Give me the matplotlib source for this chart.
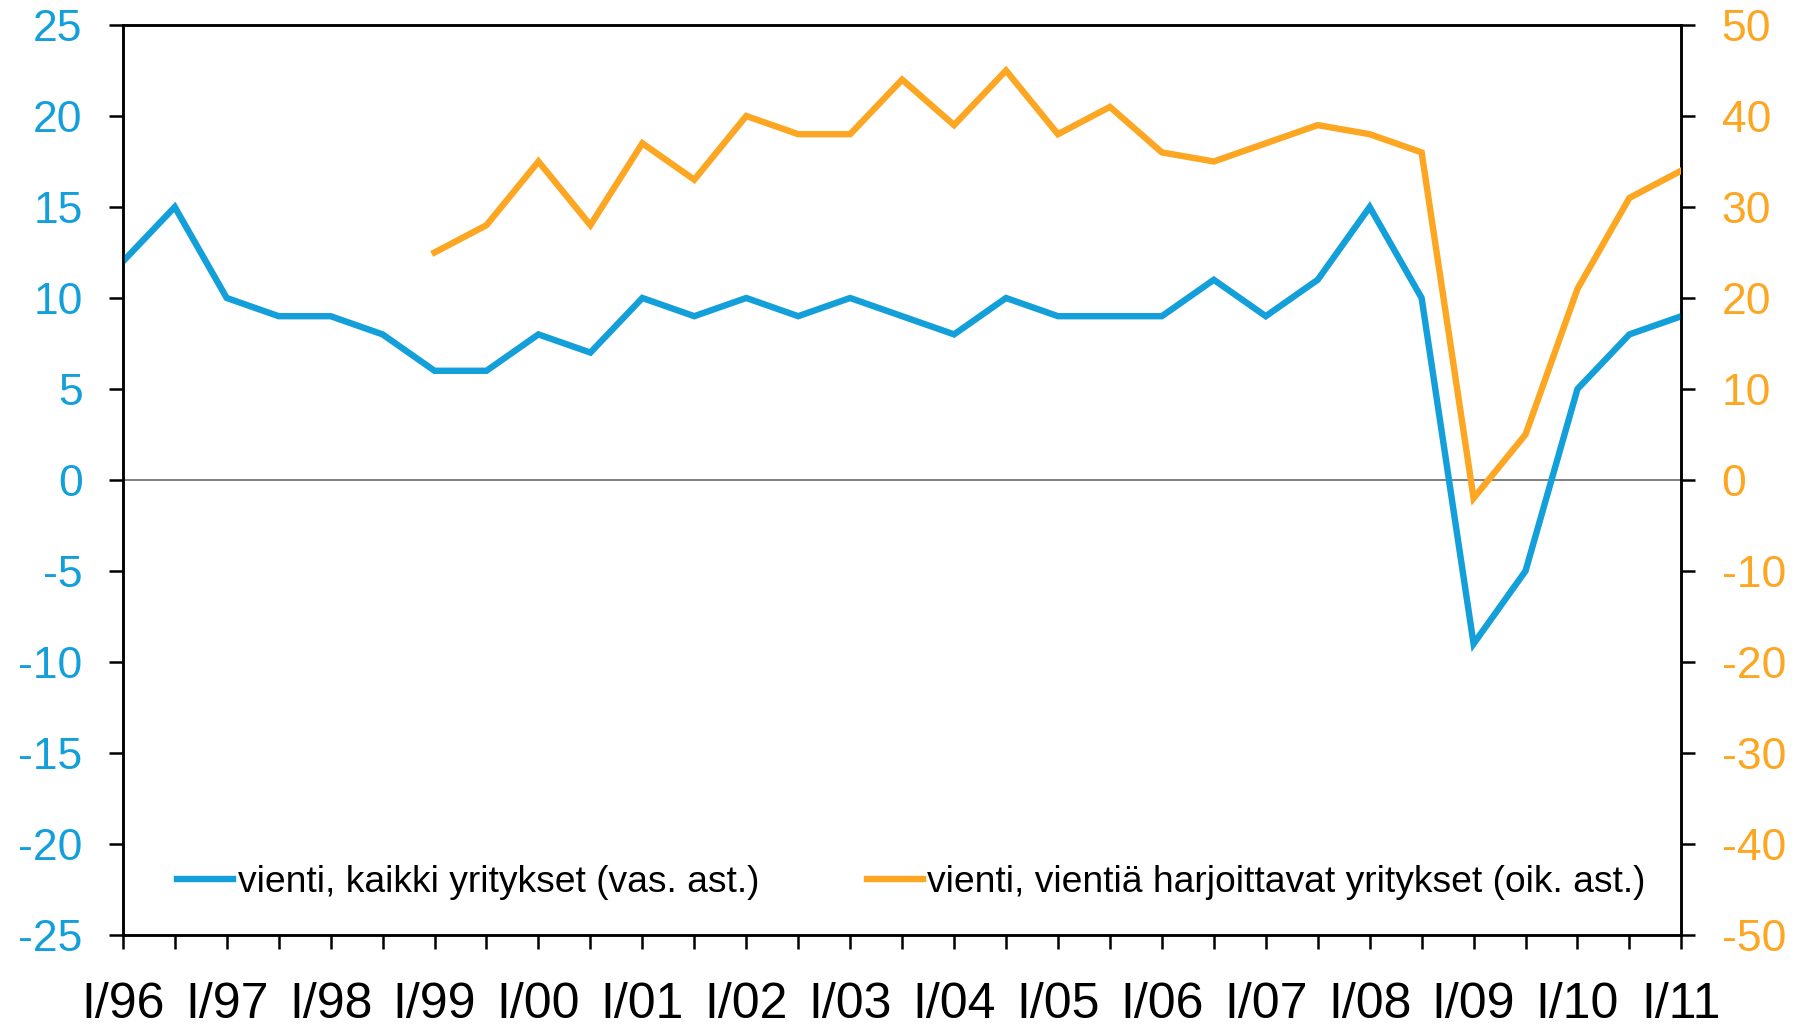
import matplotlib
matplotlib.use("Agg")
import matplotlib.pyplot as plt
import numpy as np

plt.rcParams['font.family'] = ['Liberation Sans', 'DejaVu Sans']

# half-year periods I/96 ... I/11
periods = ["I/96", "II/96", "I/97", "II/97", "I/98", "II/98", "I/99", "II/99",
           "I/00", "II/00", "I/01", "II/01", "I/02", "II/02", "I/03", "II/03",
           "I/04", "II/04", "I/05", "II/05", "I/06", "II/06", "I/07", "II/07",
           "I/08", "II/08", "I/09", "II/09", "I/10", "II/10", "I/11"]
kaikki = [12, 15, 10, 9, 9, 8, 6, 6, 8, 7, 10, 9, 10, 9, 10, 9, 8, 10, 9, 9,
          9, 11, 9, 11, 15, 10, -9, -5, 5, 8, 9]
harjoittavat = [None, None, None, None, None, None, 25, 28, 35, 28, 37, 33, 40,
                38, 38, 44, 39, 45, 38, 41, 36, 35, 37, 39, 38, 36, -2, 5, 21,
                31, 34]
label_blue = "vienti, kaikki yritykset (vas. ast.)"
label_orange = "vienti, vientiä harjoittavat yritykset (oik. ast.)"
left_ticks = [-25, -20, -15, -10, -5, 0, 5, 10, 15, 20, 25]
right_ticks = [-50, -40, -30, -20, -10, 0, 10, 20, 30, 40, 50]

BLUE = "#129FDA"
ORANGE = "#FCA622"

fig = plt.figure(figsize=(18.06, 10.29), dpi=100)
ax = fig.add_axes([0.068, 0.0914, 0.863, 0.8843])
ax2 = ax.twinx()

x = np.arange(len(periods))
ax.axhline(0, color="#6b6b6b", lw=1.2, zorder=1)
l1, = ax.plot(x, kaikki, color=BLUE, lw=4.6, solid_joinstyle="miter", zorder=3)
y2 = np.array([np.nan if v is None else v for v in harjoittavat], dtype=float)
l2, = ax2.plot(x, y2, color=ORANGE, lw=4.6, solid_joinstyle="miter", zorder=3)

ax.set_xlim(0, len(periods) - 1)
ax.set_ylim(-25, 25)
ax2.set_ylim(-50, 50)
ax.set_yticks(left_ticks)
ax.set_yticklabels([str(t) for t in left_ticks])
ax2.set_yticks(right_ticks)
ax2.set_yticklabels([str(t) for t in right_ticks])
ax.set_xticks(x)
ax.set_xticklabels([p if p.startswith("I/") else "" for p in periods])

ax.tick_params(axis='y', colors='black', labelcolor=BLUE, labelsize=32,
               length=10, width=1.8, pad=19, direction='out')
ax2.tick_params(axis='y', colors='black', labelcolor=ORANGE, labelsize=32,
                length=10, width=1.8, pad=19, direction='out')
ax.tick_params(axis='x', colors='black', labelsize=36, length=10, width=1.8,
               pad=24, direction='out')
for a in (ax, ax2):
    for s in a.spines.values():
        s.set_linewidth(1.8)
        s.set_color('black')

leg = ax.legend([l1, l2], [label_blue, label_orange], ncol=2, loc='center left',
                bbox_to_anchor=(0.035, 0.0575), frameon=False, fontsize=26.8,
                handlelength=1.5, handletextpad=0.12, columnspacing=2.9,
                borderaxespad=0, borderpad=0)
for t in leg.get_texts():
    t.set_color('black')

fig.savefig("out.png", dpi=100)
